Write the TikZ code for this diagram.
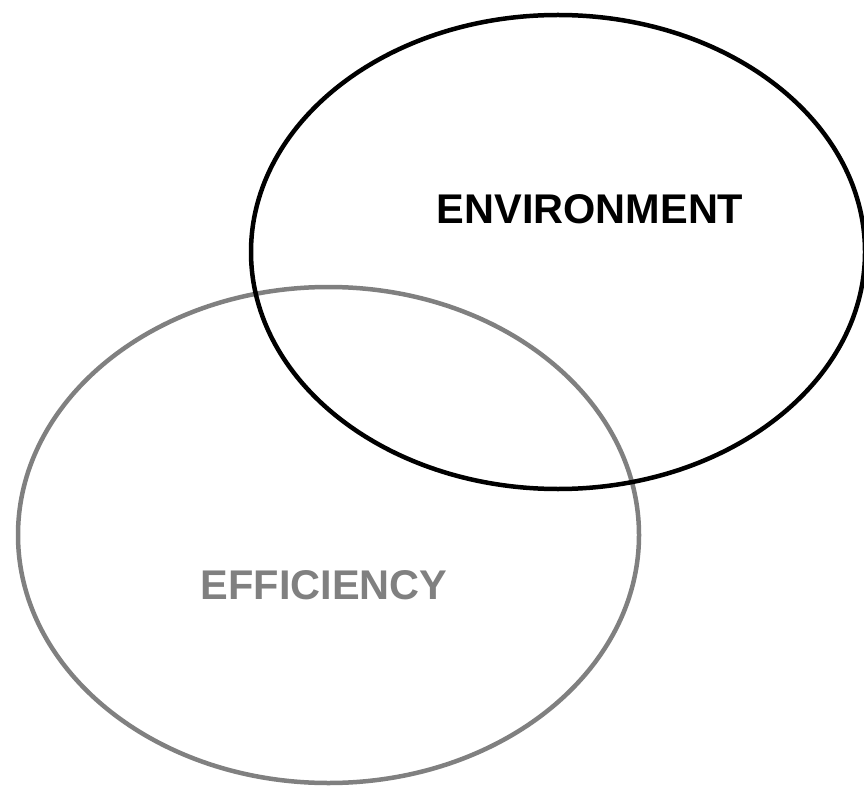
\documentclass[tikz,border=0pt]{standalone}
\usepackage{fontspec}
\setmainfont{Liberation Sans}
\usetikzlibrary{shapes.geometric}
\definecolor{effgray}{HTML}{808080}
\tikzset{
  circ/.style={ellipse, draw, line width=4.5pt, inner sep=0pt, outer sep=0pt},
  lbl/.style={font=\fontsize{41.5}{45}\selectfont\bfseries, inner sep=0pt}
}
\begin{document}
\begin{tikzpicture}[x=1pt,y=-1pt]
\useasboundingbox (0,0) rectangle (864,786);
\node[circ, draw=effgray, minimum width=621pt, minimum height=496pt] (eff) at (328.5,535) {};
\node[circ, draw=black, minimum width=614pt, minimum height=474pt] (env) at (558,252) {};
\node[lbl, text=black] (envl) at (590,209) {ENVIRONMENT};
\node[lbl, text=effgray] (effl) at (324,585) {EFFICIENCY};
\end{tikzpicture}
\end{document}
